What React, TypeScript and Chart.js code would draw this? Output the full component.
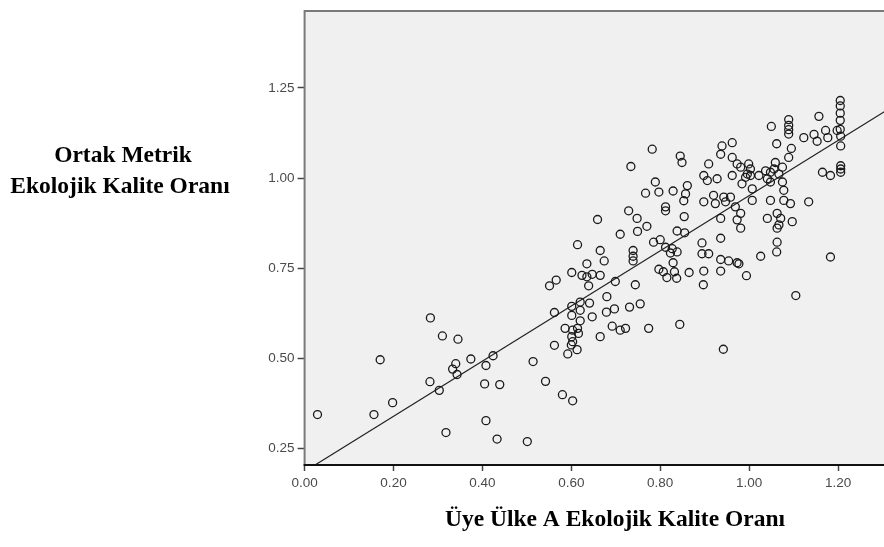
import { useEffect, useRef } from "react";
import { Chart, registerables } from "chart.js";

Chart.register(...registerables);

// Member state A ecological quality ratio (x) vs common metric EQR (y)
const xValues = [
  0.029, 0.156, 0.17, 0.198, 0.283, 0.282, 0.303, 0.31, 0.318, 0.333, 0.34, 0.343, 0.345, 0.374, 0.405, 0.408, 0.408, 0.424, 0.433, 0.439, 0.501, 0.514, 0.542, 0.551, 0.566, 0.562, 0.562, 0.58, 0.603, 0.586, 0.592,
  0.614, 0.665, 0.674, 0.635, 0.601, 0.624, 0.635, 0.647, 0.665, 0.639, 0.699, 0.68, 0.641, 0.601, 0.62, 0.62, 0.601, 0.647, 0.679, 0.697, 0.731, 0.755, 0.62, 0.614, 0.603, 0.601, 0.603, 0.6, 0.613, 0.616, 0.692, 0.71, 0.722, 0.665, 0.774, 0.844, 0.942,
  0.71, 0.749, 0.77, 0.838, 0.855, 0.739, 0.739, 0.739, 0.785, 0.8, 0.812, 0.827, 0.838, 0.823, 0.829, 0.797, 0.807, 0.815, 0.832, 0.837, 0.865, 0.894, 0.894, 0.909, 0.898, 0.897, 0.744, 0.936, 0.981, 1.063, 1.063, 1.062, 1.026, 1.183, 0.936, 0.954, 0.973, 0.977, 0.936, 0.994, 1.105,
  0.782, 0.734, 0.845, 0.849, 0.909, 0.789, 0.767, 0.797, 0.829, 0.861, 0.898, 0.906, 0.853, 0.898, 0.812, 0.812, 0.729, 0.748, 0.854, 0.659, 0.857,
  1.205, 1.205, 1.205, 1.205, 1.205, 1.206, 1.157, 1.089, 1.089, 1.089, 1.089, 1.05, 1.123, 1.146, 1.153, 1.172, 1.177, 1.198, 1.206, 1.062, 1.095, 1.089, 1.059, 1.056, 1.075, 1.067, 1.048, 1.041, 1.165, 1.183, 1.206, 1.206, 1.206,
  0.939, 0.962, 0.936, 0.962, 0.973, 0.981, 0.999, 1.003, 0.996, 0.992, 1.003, 0.962, 0.928, 1.022, 1.037, 0.984, 1.007, 1.048, 1.075, 1.078, 1.093, 1.078, 1.048, 1.134, 1.007, 0.92, 0.943, 0.958, 0.924, 0.947, 0.969, 0.981, 0.973, 0.936, 1.041, 1.063, 1.071, 1.067, 1.097,
];
const yValues = [
  0.344, 0.344, 0.496, 0.377, 0.612, 0.435, 0.411, 0.562, 0.294, 0.47, 0.485, 0.455, 0.553, 0.498, 0.429, 0.48, 0.327, 0.507, 0.276, 0.427, 0.269, 0.491, 0.436, 0.701, 0.717, 0.627, 0.536, 0.399, 0.382, 0.583, 0.512,
  0.815, 0.799, 0.77, 0.762, 0.738, 0.73, 0.726, 0.733, 0.73, 0.701, 0.713, 0.671, 0.653, 0.644, 0.656, 0.633, 0.619, 0.615, 0.628, 0.637, 0.642, 0.651, 0.604, 0.583, 0.578, 0.56, 0.546, 0.537, 0.524, 0.569, 0.589, 0.578, 0.583, 0.56, 0.583, 0.594, 0.525,
  0.844, 0.852, 0.866, 0.853, 0.848, 0.799, 0.783, 0.77, 0.822, 0.829, 0.808, 0.804, 0.795, 0.792, 0.765, 0.747, 0.74, 0.724, 0.74, 0.722, 0.738, 0.82, 0.79, 0.79, 0.742, 0.704, 0.704, 0.833, 0.861, 0.861, 0.822, 0.795, 0.783, 0.781, 0.774, 0.77, 0.765, 0.762, 0.742, 0.729, 0.674,
  1.08, 1.032, 1.061, 1.043, 1.039, 0.989, 0.958, 0.961, 0.964, 0.979, 1.007, 0.993, 0.937, 0.934, 0.92, 0.909, 0.909, 0.888, 0.893, 0.885, 0.956,
  1.215, 1.2, 1.18, 1.16, 1.135, 1.116, 1.171, 1.162, 1.146, 1.134, 1.122, 1.143, 1.112, 1.121, 1.102, 1.132, 1.112, 1.132, 1.089, 1.095, 1.082, 1.057, 1.043, 1.025, 1.03, 1.011, 1.016, 0.998, 1.016, 1.007, 1.034, 1.025, 1.016,
  1.089, 1.098, 1.066, 1.057, 1.039, 1.03, 1.039, 1.025, 1.011, 1.002, 1.007, 1.007, 0.998, 1.007, 1.02, 0.984, 0.97, 0.989, 0.989, 0.966, 0.929, 0.938, 0.938, 0.934, 0.938, 0.952, 0.947, 0.947, 0.929, 0.934, 0.92, 0.902, 0.884, 0.888, 0.888, 0.902, 0.888, 0.87, 0.879,
];

const xTicks = [0, 0.2, 0.4, 0.6, 0.8, 1.0, 1.2];
const yTicks = [0.25, 0.5, 0.75, 1.0, 1.25];
const xRange = [0, 1.305];
const yRange = [0.204, 1.463];
const fitSlope = 0.765;
const fitIntercept = 0.186;
const xTitle = "Üye Ülke A Ekolojik Kalite Oranı";
const yTitleLines = ["Ortak Metrik", "Ekolojik Kalite Oranı"];

const framePlugin = {
  id: "frame",
  beforeDraw(chart: any) {
    const { ctx, chartArea: a } = chart;
    ctx.save();
    ctx.fillStyle = "#f0f0f0";
    ctx.fillRect(a.left, a.top, a.right - a.left, a.bottom - a.top);
    ctx.restore();
  },
  afterDraw(chart: any) {
    const { ctx, chartArea: a } = chart;
    ctx.save();
    ctx.lineWidth = 2;
    ctx.strokeStyle = "#7a7a7a";
    ctx.beginPath();
    ctx.moveTo(a.left, a.bottom);
    ctx.lineTo(a.left, a.top);
    ctx.lineTo(a.right + 2, a.top);
    ctx.stroke();
    ctx.strokeStyle = "#111";
    ctx.beginPath();
    ctx.moveTo(a.left - 1, a.bottom);
    ctx.lineTo(a.right + 2, a.bottom);
    ctx.stroke();

    ctx.fillStyle = "#000";
    ctx.font = 'bold 23.5px "Liberation Serif", "Times New Roman", serif';
    ctx.textAlign = "center";
    ctx.textBaseline = "alphabetic";
    ctx.fillText(yTitleLines[0], 123, 162);
    ctx.fillText(yTitleLines[1], 120, 193);
    ctx.fillText(xTitle, 615, 526);
    ctx.restore();
  },
};

export default function App() {
  const canvasRef = useRef<HTMLCanvasElement | null>(null);

  useEffect(() => {
    const canvas = canvasRef.current;
    if (!canvas) return;
    const points = xValues.map((x, i) => ({ x, y: yValues[i] }));
    const fitLine = xRange.map((x) => ({ x, y: fitIntercept + fitSlope * x }));
    const tickFont = { family: '"Liberation Sans", Arial, sans-serif', size: 13.5 };

    const chart = new Chart(canvas, {
      type: "scatter",
      data: {
        datasets: [
          {
            data: points,
            pointStyle: "circle",
            pointRadius: 4,
            pointBorderWidth: 1.3,
            pointBorderColor: "#1a1a1a",
            pointBackgroundColor: "rgba(0,0,0,0)",
            showLine: false,
          } as any,
          {
            data: fitLine,
            showLine: true,
            pointRadius: 0,
            borderColor: "#222",
            borderWidth: 1.2,
            clip: 0,
          } as any,
        ],
      },
      options: {
        animation: false,
        responsive: false,
        devicePixelRatio: 1,
        layout: { padding: { top: 5, left: 0, right: 0, bottom: 0 } },
        plugins: { legend: { display: false }, tooltip: { enabled: false } },
        scales: {
          x: {
            type: "linear",
            min: xRange[0],
            max: xRange[1],
            afterBuildTicks: (scale: any) => {
              scale.ticks = xTicks.map((v) => ({ value: v }));
            },
            afterFit: (scale: any) => {
              scale.height = 82;
            },
            border: { display: false },
            grid: {
              drawOnChartArea: false,
              drawTicks: true,
              tickLength: 6,
              tickWidth: 1.5,
              tickColor: "#444",
            },
            ticks: {
              font: tickFont,
              color: "#4a4a4a",
              padding: 4,
              maxRotation: 0,
              callback: (v: any) => Number(v).toFixed(2),
            },
          },
          y: {
            type: "linear",
            min: yRange[0],
            max: yRange[1],
            afterBuildTicks: (scale: any) => {
              scale.ticks = yTicks.map((v) => ({ value: v }));
            },
            afterFit: (scale: any) => {
              scale.width = 304.6;
            },
            border: { display: false },
            grid: {
              drawOnChartArea: false,
              drawTicks: true,
              tickLength: 7,
              tickWidth: 1.5,
              tickColor: "#444",
            },
            ticks: {
              font: tickFont,
              color: "#4a4a4a",
              padding: 3,
              callback: (v: any) => Number(v).toFixed(2),
            },
          },
        },
      },
      plugins: [framePlugin],
    });
    return () => chart.destroy();
  }, []);

  return (
    <div style={{ position: "fixed", left: 0, top: 0, width: 884, height: 547, background: "#fff", overflow: "hidden" }}>
      <canvas ref={canvasRef} width={890} height={547} style={{ display: "block" }} />
    </div>
  );
}
